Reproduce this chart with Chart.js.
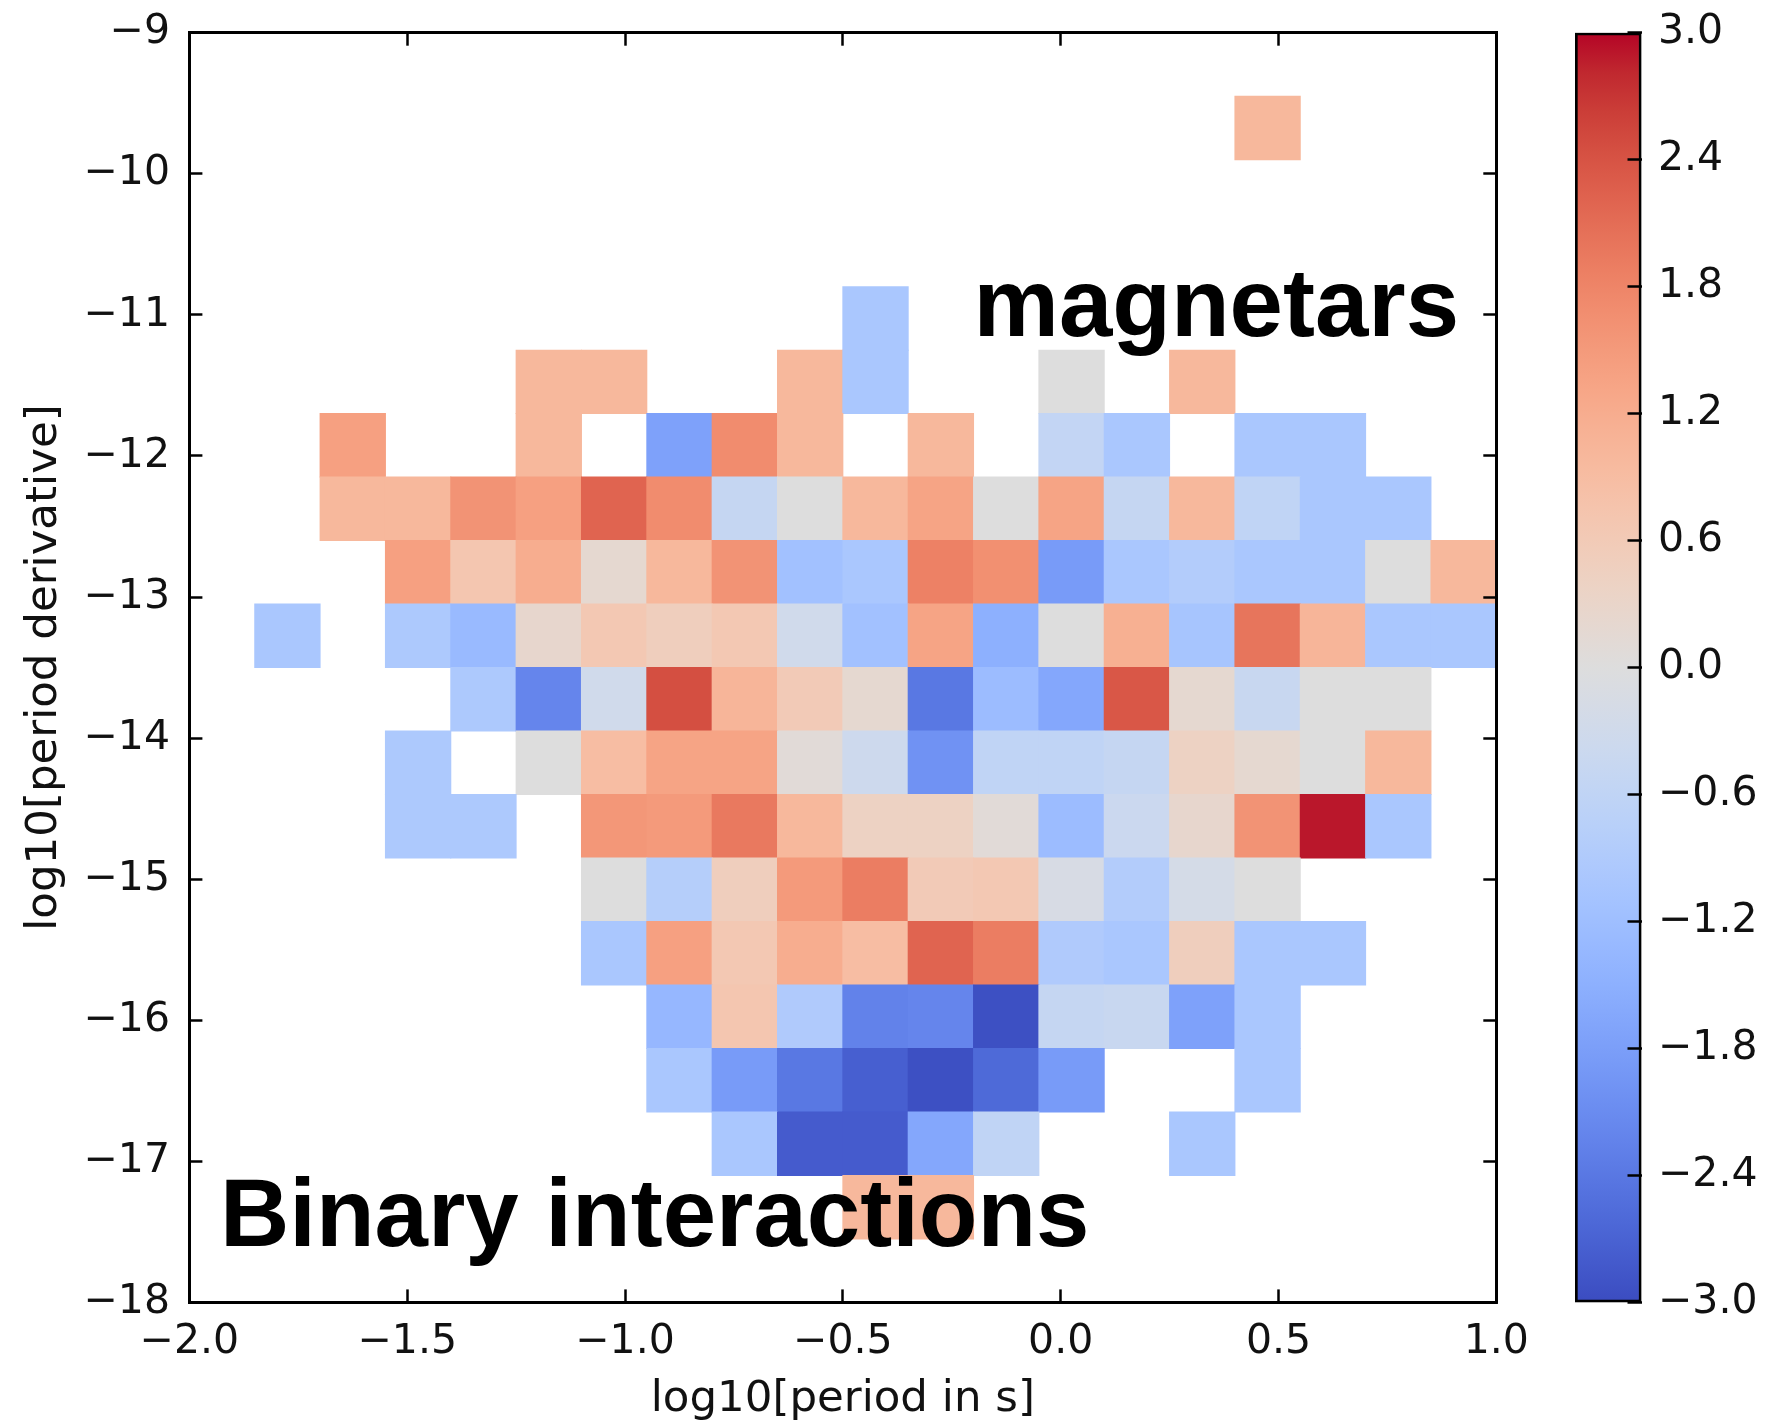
<!DOCTYPE html>
<html>
<head>
<meta charset="utf-8">
<script src="https://cdn.jsdelivr.net/npm/chart.js@4.4.1/dist/chart.umd.min.js"></script>
<style>
  html, body { margin: 0; padding: 0; background: #fff; width: 1768px; height: 1426px; overflow: hidden; }
  #main { position: absolute; left: 0; top: 0; }
  #cbar { position: absolute; left: 1500px; top: 0; }
</style>
</head>
<body>
<canvas id="main" width="1540" height="1426"></canvas>
<canvas id="cbar" width="268" height="1426"></canvas>
<script>
// ---------------- DATA ----------------
// Bin centres along log10[period in s]
const xBinCenters = [-1.925, -1.775, -1.625, -1.475, -1.325, -1.175, -1.025, -0.875, -0.725, -0.575,
                     -0.425, -0.275, -0.125, 0.025, 0.175, 0.325, 0.475, 0.625, 0.775, 0.925];
// Row bin edges along log10[period derivative] (top row first)
const yBinTops    = [-9.0, -9.45, -9.9, -10.35, -10.8, -11.25, -11.7, -12.15, -12.6, -13.05,
                     -13.5, -13.95, -14.4, -14.85, -15.3, -15.75, -16.2, -16.65, -17.1, -17.55];
const yBinBottoms = [-9.45, -9.9, -10.35, -10.8, -11.25, -11.7, -12.15, -12.6, -13.05, -13.5,
                     -13.95, -14.4, -14.85, -15.3, -15.75, -16.2, -16.65, -17.1, -17.55, -18.0];
const _ = null;
// Cell values, one row per y bin (top row first), one entry per x bin; _ = empty
const row00 = [_,_,_,_,_,_,_,_,_,_,_,_,_,_,_,_,_,_,_,_];
const row01 = [_,_,_,_,_,_,_,_,_,_,_,_,_,_,_,_,1.0,_,_,_];
const row02 = [_,_,_,_,_,_,_,_,_,_,_,_,_,_,_,_,_,_,_,_];
const row03 = [_,_,_,_,_,_,_,_,_,_,_,_,_,_,_,_,_,_,_,_];
const row04 = [_,_,_,_,_,_,_,_,_,_,-1.0,_,_,_,_,_,_,_,_,_];
const row05 = [_,_,_,_,_,1.0,1.0,_,_,1.0,-1.0,_,_,0.0,_,1.0,_,_,_,_];
const row06 = [_,_,1.4,_,_,1.0,_,-1.75,1.7,1.0,_,1.0,_,-0.55,-1.0,_,-1.0,-1.0,_,_];
const row07 = [_,_,1.0,1.0,1.6,1.4,2.2,1.7,-0.5,0.0,1.0,1.35,0.0,1.35,-0.5,1.0,-0.6,-1.0,-1.0,_];
const row08 = [_,_,_,1.4,0.7,1.2,0.2,1.0,1.6,-1.15,-1.0,1.85,1.65,-1.85,-1.0,-0.85,-1.0,-1.0,0.0,1.0];
const row09 = [_,-1.0,_,-0.95,-1.3,0.25,0.65,0.5,0.65,-0.3,-1.15,1.35,-1.5,0.0,1.15,-1.05,2.0,1.05,-1.0,-1.0];
const row10 = [_,_,_,_,-0.95,-2.2,-0.3,2.45,1.05,0.6,0.2,-2.4,-1.25,-1.65,2.35,0.2,-0.45,0.0,0.0,_];
const row11 = [_,_,_,-0.95,_,0.0,0.9,1.35,1.35,0.1,-0.35,-2.0,-0.6,-0.6,-0.5,0.4,0.2,0.0,1.0,_];
const row12 = [_,_,_,-0.95,-0.95,_,1.55,1.5,1.95,1.0,0.4,0.4,0.1,-1.25,-0.4,0.25,1.6,2.9,-1.0,_];
const row13 = [_,_,_,_,_,_,0.0,-0.8,0.5,1.5,1.9,0.6,0.65,-0.15,-0.85,-0.2,0.0,_,_,_];
const row14 = [_,_,_,_,_,_,-1.0,1.4,0.65,1.2,0.9,2.2,1.9,-0.9,-1.0,0.5,-1.0,-1.0,_,_];
const row15 = [_,_,_,_,_,_,_,-1.35,0.7,-0.9,-2.25,-2.2,-2.95,-0.5,-0.45,-1.75,-1.0,_,_,_];
const row16 = [_,_,_,_,_,_,_,-1.0,-1.85,-2.4,-2.75,-2.95,-2.6,-1.85,_,_,-1.0,_,_,_];
const row17 = [_,_,_,_,_,_,_,_,-1.0,-2.8,-2.8,-1.65,-0.6,_,_,-1.0,_,_,_,_];
const row18 = [_,_,_,_,_,_,_,_,_,_,1.0,1.0,_,_,_,_,_,_,_,_];
const row19 = [_,_,_,_,_,_,_,_,_,_,_,_,_,_,_,_,_,_,_,_];
const cellRows = [row00,row01,row02,row03,row04,row05,row06,row07,row08,row09,
                  row10,row11,row12,row13,row14,row15,row16,row17,row18,row19];

const xTickValues = [-2.0, -1.5, -1.0, -0.5, 0.0, 0.5, 1.0];
const yTickValues = [-18, -17, -16, -15, -14, -13, -12, -11, -10, -9];
const cbTickValues = [-3.0, -2.4, -1.8, -1.2, -0.6, 0.0, 0.6, 1.2, 1.8, 2.4, 3.0];
const colorMin = -3.0, colorMax = 3.0;

const annotationTexts = ['magnetars', 'Binary interactions'];
const annotationX = [-0.20, -1.930];
const annotationY = [-11.15, -17.60];

// ---------------- COLOUR MAP (coolwarm) ----------------
const COOLWARM = [[59,76,192],[68,90,204],[77,104,215],[87,117,225],[98,130,234],[108,142,241],[119,154,247],
  [130,165,251],[141,176,254],[152,185,255],[163,194,255],[174,201,253],[184,208,249],[194,213,244],[204,217,238],
  [213,219,230],[221,221,221],[229,216,209],[236,211,197],[241,204,185],[245,196,173],[247,187,160],[247,177,148],
  [247,166,135],[244,154,123],[241,141,111],[236,127,99],[229,112,88],[222,96,77],[213,80,66],[203,62,56],
  [192,40,47],[180,4,38]];
function coolwarm(v) {
  let t = (v - colorMin) / (colorMax - colorMin);
  t = Math.max(0, Math.min(1, t));
  const f = t * (COOLWARM.length - 1);
  const i = Math.min(COOLWARM.length - 2, Math.floor(f));
  const u = f - i;
  const a = COOLWARM[i], b = COOLWARM[i + 1];
  const c = a.map((x, k) => Math.round(x + (b[k] - x) * u));
  return `rgb(${c[0]},${c[1]},${c[2]})`;
}

// ---------------- BUILD ----------------
const cells = [];
cellRows.forEach((row, r) => {
  row.forEach((v, c) => {
    if (v !== null) cells.push({ x: xBinCenters[c], y: [yBinBottoms[r], yBinTops[r]], v: v });
  });
});

const minus = s => s.replace('-', '\u2212');
const fmt1 = v => minus(Number(v).toFixed(1));
const fmt0 = v => minus(Number(v).toFixed(0));
const tickFont = { family: 'DejaVu Sans', size: 41 };
const titleFont = { family: 'DejaVu Sans', size: 43.5 };
const TXT = '#111';

function inwardGrid(len) {
  return { display: true, drawOnChartArea: false, drawTicks: true, tickLength: -len,
           tickWidth: 2.5, tickColor: '#000', z: 1, offset: false };
}
const frame = { display: true, color: '#000', width: 3, z: 1 };
function noPad(s) { s.paddingTop = 0; s.paddingBottom = 0; s.paddingLeft = 0; s.paddingRight = 0; }

const annotationPlugin = {
  id: 'annot',
  afterDatasetsDraw(chart) {
    const { ctx, scales } = chart;
    ctx.save();
    ctx.fillStyle = '#000';
    ctx.font = 'bold 96px "Liberation Sans", Arial, sans-serif';
    ctx.textBaseline = 'alphabetic';
    ctx.textAlign = 'left';
    annotationTexts.forEach((t, i) => {
      ctx.fillText(t, scales.x.getPixelForValue(annotationX[i]), scales.y.getPixelForValue(annotationY[i]));
    });
    ctx.restore();
  }
};

new Chart(document.getElementById('main'), {
  type: 'bar',
  data: {
    datasets: [{
      data: cells,
      xAxisID: 'x', yAxisID: 'y',
      backgroundColor: c => (c.raw ? coolwarm(c.raw.v) : 'rgba(0,0,0,0)'),
      borderWidth: 0,
      barPercentage: 1, categoryPercentage: 1, grouped: false,
      inflateAmount: 0.5
    }]
  },
  options: {
    responsive: false, animation: false, events: [],
    layout: { padding: { left: 0, top: 32.7, right: 43.7, bottom: 0 } },
    plugins: { legend: { display: false }, tooltip: { enabled: false } },
    scales: {
      x: {
        type: 'linear', position: 'bottom', min: -2, max: 1, offset: false,
        grid: inwardGrid(13), border: frame,
        ticks: { autoSkip: false, maxRotation: 0, padding: 28, color: TXT, font: tickFont, callback: fmt1 },
        title: { display: true, text: 'log10[period in s]', color: TXT, font: titleFont, padding: { top: 0, bottom: 0 } },
        afterBuildTicks: s => { s.ticks = xTickValues.map(v => ({ value: v })); },
        afterFit: s => { s.height = 123.6; noPad(s); }
      },
      x2: {
        type: 'linear', position: 'top', min: -2, max: 1, offset: false,
        grid: inwardGrid(13), border: frame,
        ticks: { display: false },
        afterBuildTicks: s => { s.ticks = xTickValues.map(v => ({ value: v })); },
        afterFit: s => { s.height = 0; noPad(s); }
      },
      y: {
        type: 'linear', position: 'left', min: -18, max: -9,
        grid: inwardGrid(13), border: frame,
        ticks: { autoSkip: false, padding: 32.4, color: TXT, font: tickFont, callback: fmt0 },
        title: { display: true, text: 'log10[period derivative]', color: TXT, font: titleFont, padding: { top: 19, bottom: 0 } },
        afterBuildTicks: s => { s.ticks = yTickValues.map(v => ({ value: v })); },
        afterFit: s => { s.width = 189.4; noPad(s); }
      },
      y2: {
        type: 'linear', position: 'right', min: -18, max: -9,
        grid: inwardGrid(13), border: frame,
        ticks: { display: false },
        afterBuildTicks: s => { s.ticks = yTickValues.map(v => ({ value: v })); },
        afterFit: s => { s.width = 0; noPad(s); }
      }
    }
  },
  plugins: [annotationPlugin]
});

new Chart(document.getElementById('cbar'), {
  type: 'bar',
  data: {
    labels: [''],
    datasets: [{
      data: [[colorMin, colorMax]],
      backgroundColor: c => {
        const ch = c.chart, ys = ch.scales && ch.scales.y;
        if (!ys || !ch.chartArea) return '#ddd';
        const g = ch.ctx.createLinearGradient(0, ys.getPixelForValue(colorMin), 0, ys.getPixelForValue(colorMax));
        COOLWARM.forEach((rgb, i) => g.addColorStop(i / (COOLWARM.length - 1), `rgb(${rgb[0]},${rgb[1]},${rgb[2]})`));
        return g;
      },
      borderColor: '#000', borderWidth: 3, borderSkipped: false,
      barPercentage: 1, categoryPercentage: 1
    }]
  },
  options: {
    responsive: false, animation: false, events: [],
    layout: { padding: { left: 75, top: 32.7, right: 0, bottom: 123.6 } },
    plugins: { legend: { display: false }, tooltip: { enabled: false } },
    scales: {
      x: { display: false },
      y: {
        position: 'right', min: colorMin, max: colorMax, beginAtZero: false,
        grid: inwardGrid(14), border: { display: false },
        ticks: { autoSkip: false, padding: 30.5, color: TXT, font: tickFont, callback: fmt1 },
        afterBuildTicks: s => { s.ticks = cbTickValues.map(v => ({ value: v })); },
        afterFit: s => { s.width = 126.5; noPad(s); }
      }
    }
  }
});
</script>
</body>
</html>
